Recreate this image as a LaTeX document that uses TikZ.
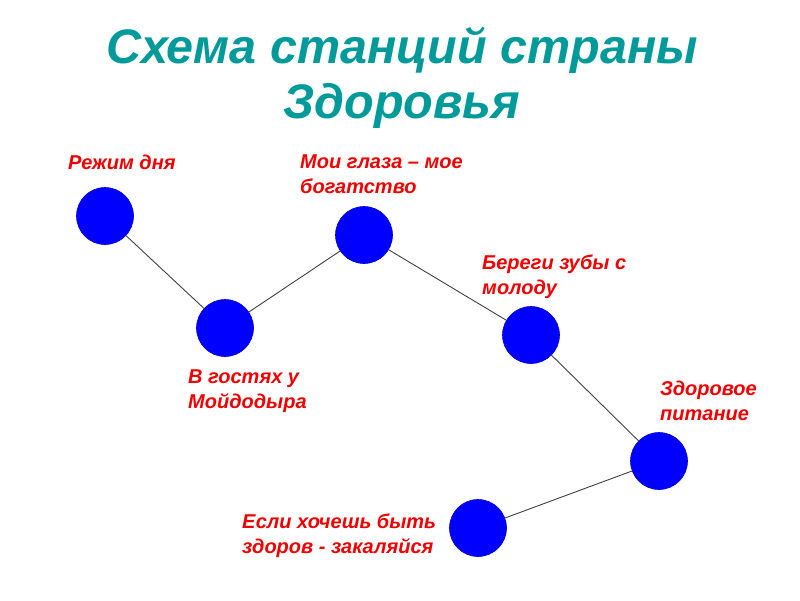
\documentclass[tikz,border=0pt]{standalone}
\usepackage{fontspec}
\setmainfont{Liberation Sans}
\definecolor{titlec}{HTML}{009A9A}
\definecolor{labelc}{HTML}{F00000}
\tikzset{
  station/.style={circle, fill=blue, draw=blue!85!black, line width=0.6pt, minimum size=57pt, inner sep=0pt},
  link/.style={draw=black!75, line width=0.9pt},
  lbl/.style={text=labelc, font=\fontsize{20}{25}\selectfont\bfseries\itshape, align=left, anchor=north west, inner sep=0pt},
  ttl/.style={text=titlec, font=\fontsize{48.5}{55}\selectfont\bfseries\itshape, anchor=base, inner sep=0pt}
}
\begin{document}
\begin{tikzpicture}[x=1pt,y=-1pt]
\useasboundingbox (0,0) rectangle (800,600);
\node[ttl] (title1) at (402,63) {Схема станций страны};
\node[ttl] (title2) at (402,118) {Здоровья};
\node[station] (s1) at (105,216) {};
\node[station] (s2) at (225,328) {};
\node[station] (s3) at (364,235) {};
\node[station] (s4) at (531,335) {};
\node[station] (s5) at (659,461) {};
\node[station] (s6) at (478,528) {};
\draw[link] (s1) -- (s2);
\draw[link] (s2) -- (s3);
\draw[link] (s3) -- (s4);
\draw[link] (s4) -- (s5);
\draw[link] (s5) -- (s6);
\node[lbl] (l1) at (68,155) {Режим дня};
\node[lbl] (l3) at (300,155) {Мои глаза – мое\\богатство};
\node[lbl] (l4) at (482,255) {Береги зубы с\\молоду};
\node[lbl] (l2) at (188,370) {В гостях у\\Мойдодыра};
\node[lbl] (l5) at (660,381) {Здоровое\\питание};
\node[lbl] (l6) at (242,514) {Если хочешь быть\\здоров - закаляйся};
\end{tikzpicture}
\end{document}
